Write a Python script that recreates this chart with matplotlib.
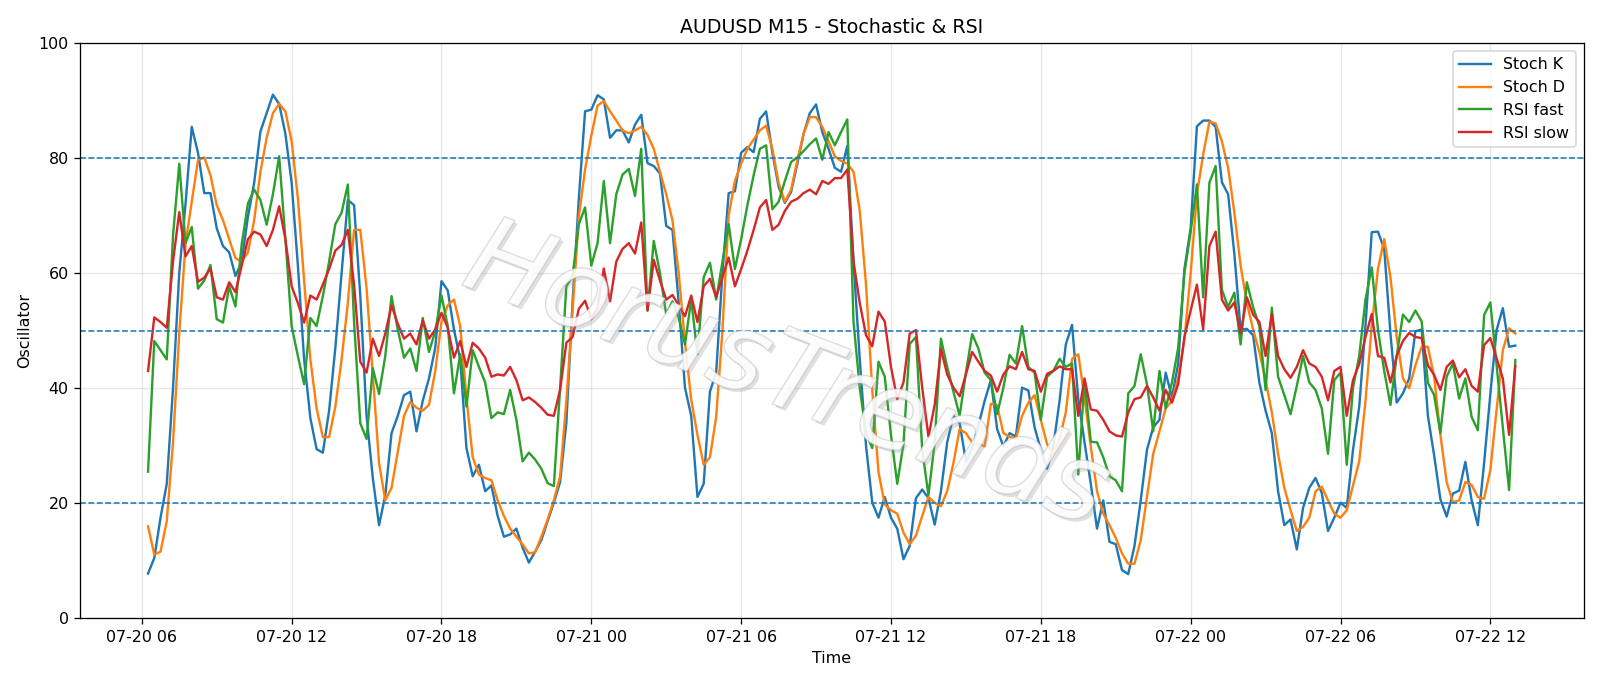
import matplotlib
matplotlib.use("Agg")
import matplotlib.pyplot as plt
import matplotlib.dates as mdates
import matplotlib.patheffects as pe
import pandas as pd

start_time = "2025-07-20 06:15"
n_points = 220

stoch_k = [
    7.8, 10.5, 17.5, 23.4, 40, 60, 72, 85.4, 80.9, 73.9, 73.9, 67.8, 64.7, 63.6, 59.5, 62, 69.8, 75.7, 84.6, 87.8, 91, 89.4,
    84.2, 75.7, 61.3, 45, 34.8, 29.4, 28.8, 36.1, 47, 60, 72.7, 71.8, 56, 35.2, 24.4, 16.2, 21.4, 32.2, 35.2, 38.8, 39.4, 32.5,
    37.8, 41.7, 47, 58.6, 57, 50.2, 45, 29.6, 24.7, 26.7, 22.1, 23.1, 17.8, 14.2, 14.6, 15.6, 12.3, 9.7, 11.6, 13.6, 16.9, 20.1,
    23.7, 34, 55, 73, 88.1, 88.4, 90.9, 90.2, 83.5, 84.8, 84.8, 82.7, 85.8, 87.5, 79.1, 78.6, 77.3, 68.2, 67.5, 54.8, 40.1, 35.2, 21.1,
    23.4, 39.4, 42.7, 60, 73.9, 74.2, 80.9, 81.9, 81, 86.8, 88.1, 80.9, 75, 72.2, 74.1, 79, 84.2, 87.8, 89.3, 84.5, 81.6, 78.3,
    77.6, 82.1, 62, 45, 30, 20.1, 17.5, 21.1, 17.5, 15.6, 10.3, 12.6, 20.9, 22.4, 20.9, 16.3, 22.1, 30.6, 35.2, 33.9, 27.3, 29.6, 33.5,
    37.8, 41.4, 32.9, 29.9, 32.2, 31.6, 40.1, 39.6, 33.2, 29.3, 26, 29.9, 37.8, 47.6, 51, 38.1, 30.6, 23.4, 15.6, 20.5, 13.3, 12.9,
    8.4, 7.7, 12.6, 20.5, 29.3, 33.2, 34.5, 42.7, 38.4, 44.3, 60.7, 67.8, 85.5, 86.5, 86.5, 85.4, 75.8, 73.7, 63.3, 50.2, 50.3, 49.2, 41,
    36.1, 32.2, 22.1, 16.2, 17.2, 12, 19.2, 22.7, 24.4, 21.8, 15.2, 17.5, 20.1, 19.2, 29.3, 36.8, 50.8, 67.1, 67.2, 64.2, 49.5, 37.5, 39.1,
    41.7, 49.9, 50.2, 35.2, 28.3, 20.7, 17.7, 21.7, 22.2, 27.2, 20.5, 16.2, 27, 39, 50.1, 53.9, 47.2, 47.4,
]

stoch_d = [
    16, 11.1, 11.6, 16.9, 30.6, 49.5, 65, 72.4, 79.6, 80.1, 77, 71.8, 69.2, 65.9, 62.6, 62, 63.6, 69.2, 77.6, 83.5, 87.8, 89.4,
    88.1, 82.9, 73, 58.7, 45, 36.5, 31.5, 31.5, 36.8, 45, 54.8, 67.5, 67.5, 57.4, 42.4, 27, 20.5, 22.7, 29, 35.2, 37.6, 36.6,
    36.1, 37.1, 43, 51.5, 54.4, 55.4, 50.8, 38.4, 28, 25, 24.4, 24, 20.5, 17.8, 15.6, 14.2, 12.9, 11.3, 11.5, 14.2, 17.2, 20.5,
    24.7, 37.8, 53.5, 69.8, 78, 83.9, 89.1, 89.9, 88.1, 86.5, 84.8, 84.3, 84.8, 85.4, 84, 81.6, 77.6, 73.7, 69.2, 60, 48, 38, 31.9,
    26.7, 28, 35, 50, 70, 76, 79, 81.6, 83.2, 84.8, 85.6, 81.6, 75.7, 72.4, 74.5, 79.6, 84.2, 87.1, 87.1, 85.4, 82.9, 80.3,
    79.5, 79, 77.6, 70.8, 58, 39.7, 25.4, 19.8, 18.8, 18.2, 14.9, 12.9, 14.4, 17.8, 21.1, 20.1, 19.5, 22.1, 27, 32.9, 32.2, 30.6, 30.3,
    29.9, 37.3, 37, 32.2, 31.6, 31.2, 35.2, 37.5, 38.8, 34.5, 30.3, 28.6, 31.2, 35.8, 45.1, 45.9, 38.4, 29.9, 22.1, 18.2, 16.2, 14,
    11.3, 9.5, 9.5, 13.6, 21.1, 28.6, 32.5, 36.5, 37.8, 41.7, 48.5, 60, 73.7, 80.6, 86.3, 86, 82.9, 78.3, 70.5, 61.3, 54.8, 50.2, 46.3,
    41.4, 35.8, 28.6, 22.7, 18.8, 15.2, 15.9, 17.5, 22.1, 22.9, 20.5, 18.2, 17.5, 18.8, 23.1, 27.3, 37.8, 50.8, 60.7, 65.9, 59.3, 48.9, 41.7,
    40, 44, 47.2, 47.2, 42, 31.9, 23.7, 20.2, 20.5, 23.7, 23.2, 21.1, 20.8, 25.8, 36.2, 46.6, 50.4, 49.5,
]

rsi_fast = [
    25.5, 48.2, 46.6, 45, 66.5, 79, 65.2, 68, 57.3, 58.7, 61.4, 52, 51.4, 57.7, 54.2, 65, 72.1, 74.5, 72.7, 68.4, 73.7, 80.3,
    65.9, 50.8, 45.6, 40.7, 52.2, 50.8, 56, 62, 68.5, 70.5, 75.4, 51.5, 33.9, 31.2, 43.5, 39, 45.6, 56, 50.2, 45.3, 46.9, 43,
    52.2, 46.3, 49.9, 56.1, 50.8, 39.1, 45.9, 36.8, 46.6, 43.7, 41, 34.8, 35.8, 35.5, 39.7, 34.5, 27.3, 28.8, 27.6, 26, 23.5, 23,
    40, 57.7, 59.5, 68.5, 71.4, 61.3, 65.2, 76, 65.2, 73.7, 77.1, 78.1, 73.4, 81.6, 53.5, 65.6, 60, 52.8, 55.1, 52.2, 47.6, 55.4, 45.9,
    59.3, 61.8, 55.4, 62, 68.5, 60.7, 65.9, 71.8, 77, 81.6, 82.2, 71.1, 72.4, 76, 79.3, 80.1, 81.2, 82.4, 83.4, 79.7, 84.5, 82.2,
    84.5, 86.7, 51.5, 40, 32.2, 29.6, 44.6, 42, 31.9, 23.4, 30.3, 47.7, 48.9, 29.3, 21.4, 30.6, 48.6, 43.7, 39.4, 35.2, 42.7, 49.4, 46.9,
    42.7, 41.4, 35.5, 40.1, 45.8, 44.3, 50.8, 43.7, 42.7, 34.5, 42, 43, 45.1, 43.7, 44.3, 25, 41.4, 30.7, 30.6, 28, 24.7, 24,
    22.1, 39.1, 40.4, 45.9, 40.7, 32.5, 43, 36.5, 41, 47, 60, 67.2, 75.4, 55.8, 75.7, 78.6, 57.1, 54.1, 56.6, 47.6, 58.4, 54.1, 50.8,
    39.7, 54, 42, 38.8, 35.5, 40.4, 45.6, 41, 39.7, 36.5, 28.6, 41.4, 42.7, 26.7, 40.1, 45.6, 55.4, 61, 50.2, 43, 37.1, 45.6, 52.8,
    51.5, 53.5, 51.6, 40.9, 38.8, 32.2, 42, 44.3, 38.2, 41.7, 35, 32.7, 52.7, 54.9, 44, 33, 22.3, 44.9,
]

rsi_slow = [
    43, 52.3, 51.5, 50.5, 62, 70.6, 62.9, 64.7, 58.5, 59.2, 60.8, 55.8, 55.4, 58.4, 56.7, 61.3, 65.9, 67.2, 66.7, 64.7, 67.5, 71.6,
    65.9, 57.7, 54.8, 51.4, 56.1, 55.4, 58, 60.7, 63.9, 64.9, 67.5, 58, 44.6, 42.7, 48.6, 45.6, 49.5, 54.4, 51.2, 48.6, 49.5, 47.6,
    51.8, 48.6, 50.2, 53.1, 50.5, 45.3, 48.2, 43.7, 47.9, 46.9, 45.3, 42, 42.4, 42.2, 43.7, 41.4, 37.9, 38.4, 37.6, 36.6, 35.4, 35.2,
    39.7, 47.9, 48.9, 53.8, 55.2, 52, 54, 60.8, 55.1, 62, 64.2, 65.2, 63.4, 68.8, 53.5, 62.3, 58.7, 55.4, 56.2, 54.4, 52.5, 56.1, 51.5,
    57.7, 59, 55.8, 59.3, 62.7, 57.7, 60.7, 63.9, 67.5, 71.4, 72.7, 67.5, 68.4, 70.8, 72.4, 72.9, 73.9, 74.5, 73.7, 76, 75.5, 76.5,
    76.5, 78, 62, 54.8, 49.2, 47.3, 53.3, 51.6, 43.7, 38.1, 41, 49.5, 50.1, 40.1, 31.6, 37.1, 46.8, 42.4, 40.1, 38.6, 42.4, 46.3, 44.6,
    43, 42.2, 39.4, 42.4, 43.8, 43.3, 46.3, 43.3, 43, 39.4, 42.5, 43, 43.8, 43.3, 43.3, 35.2, 41.7, 36.3, 36.1, 34.5, 32.5, 31.8,
    31.6, 35.8, 38.1, 38.4, 40.4, 38.4, 36.1, 39.7, 37.5, 40.7, 48.9, 53.5, 58, 50.2, 64.7, 67.2, 55.4, 53.5, 54.9, 49.5, 55.8, 52.8, 51.5,
    45.6, 52.9, 45.6, 43.3, 41.8, 43.7, 46.6, 44.3, 43.7, 42, 37.9, 43, 43.7, 35.2, 41.4, 44.2, 48.9, 52.9, 45.6, 45.3, 41, 45.6, 48.2,
    49.6, 48.9, 48.7, 44, 42.3, 39.7, 43.7, 44.8, 41.9, 43.3, 40.4, 39.4, 47.5, 48.7, 45.2, 41.7, 31.9, 43.9,
]

levels = [20, 50, 80]
title = "AUDUSD M15 - Stochastic & RSI"
watermark = "HorusTrends"

times = pd.date_range(start_time, periods=n_points, freq="15min")

DPI = 1600 / 14
fig = plt.figure(figsize=(14, 686 / DPI), dpi=DPI)
ax = fig.add_axes([0.0498, 0.0985, 0.94, 0.839])

ax.plot(times, stoch_k, color="C0", lw=1.5, label="Stoch K")
ax.plot(times, stoch_d, color="C1", lw=1.5, label="Stoch D")
ax.plot(times, rsi_fast, color="C2", lw=1.5, label="RSI fast")
ax.plot(times, rsi_slow, color="C3", lw=1.5, label="RSI slow")
for lv in levels:
    ax.axhline(lv, color="C0", ls="--", lw=1.0)

ax.set_ylim(0, 100)
ax.grid(True, alpha=0.3)
ax.xaxis.set_major_locator(mdates.HourLocator(byhour=[0, 6, 12, 18]))
ax.xaxis.set_major_formatter(mdates.DateFormatter("%m-%d %H"))
ax.set_title(title, fontsize=12)
ax.set_xlabel("Time")
ax.set_ylabel("Oscillator")
ax.legend(loc="upper right")

ax.text(0.47, 0.42, watermark, transform=ax.transAxes, fontsize=68, color="white",
        style="italic", rotation=-21, ha="center", va="center", alpha=0.5, zorder=5,
        path_effects=[pe.withSimplePatchShadow(offset=(2, -2), shadow_rgbFace="#999999", alpha=0.3),
                      pe.Stroke(linewidth=1.0, foreground="#b0b0b0"), pe.Normal()])

fig.savefig("out.png", dpi=DPI)
